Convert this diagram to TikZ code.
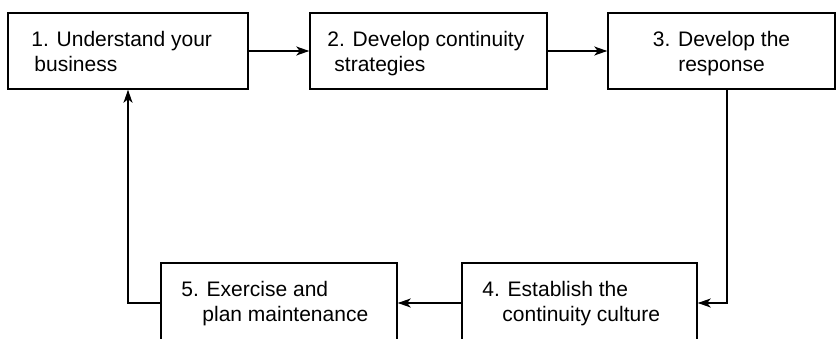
\documentclass[tikz,border=0pt]{standalone}
\usepackage{fontspec}
\setmainfont{Liberation Sans}
\usetikzlibrary{arrows.meta}
\tikzset{
  stage/.style={draw,line width=1.5pt,inner sep=0pt},
  steptext/.style={inner sep=0pt,align=left,anchor=north west,font=\fontsize{21}{25}\selectfont},
  flow/.style={line width=1.1pt,-{Stealth[length=13pt,width=9pt,inset=3.5pt]}}
}
\begin{document}
\begin{tikzpicture}[x=1pt,y=-1pt]
\useasboundingbox (0,0) rectangle (837,339);
% boxes
\node[stage,minimum width=240pt,minimum height=76pt] (b1) at (128,51) {};
\node[stage,minimum width=237pt,minimum height=76pt] (b2) at (428.5,51) {};
\node[stage,minimum width=227pt,minimum height=76pt] (b3) at (721.5,51) {};
\node[stage,minimum width=235pt,minimum height=80pt] (b4) at (579.5,303) {};
\node[stage,minimum width=236pt,minimum height=80pt] (b5) at (279,303) {};
% texts
\node[steptext] (t1) at ([xshift=24pt,yshift=-19pt]b1.north west) {1. Understand your\\\hspace*{3pt}business};
\node[steptext] (t2) at ([xshift=18pt,yshift=-19pt]b2.north west) {2. Develop continuity\\\hspace*{7pt}strategies};
\node[steptext,align=center,anchor=north] (t3) at ([yshift=-19pt]b3.north) {3. Develop the\\response};
\node[steptext] (t4) at ([xshift=21pt,yshift=-19pt]b4.north west) {4. Establish the\\\hspace*{20pt}continuity culture};
\node[steptext] (t5) at ([xshift=21pt,yshift=-19pt]b5.north west) {5. Exercise and\\\hspace*{21pt}plan maintenance};
% connectors
\coordinate (down) at (727,200);
\draw[flow] (b1.east) -- (b2.west);
\draw[flow] (b2.east) -- (b3.west);
\draw[flow] (b3.south -| down) |- (b4.east);
\draw[flow] (b4.west) -- (b5.east);
\draw[flow] (b5.west) -| (b1.south);
\end{tikzpicture}
\end{document}
